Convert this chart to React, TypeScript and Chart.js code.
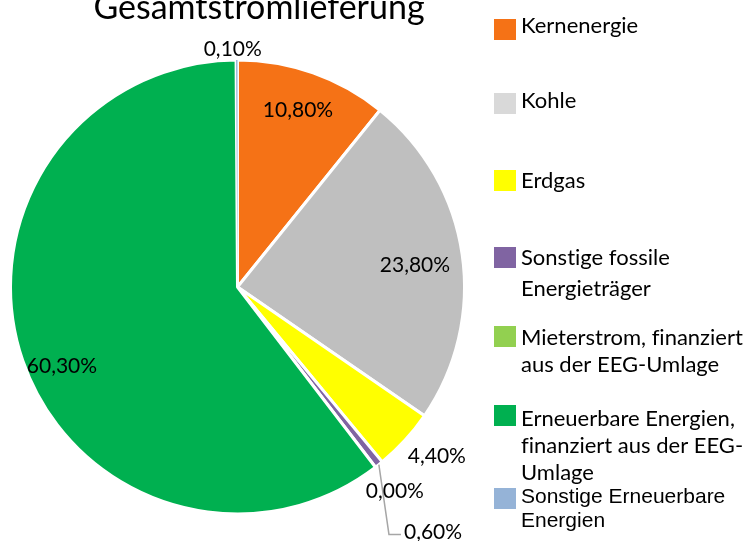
import React, { useEffect, useRef } from "react";
import { Chart, registerables } from "chart.js";

Chart.register(...registerables);

// ---------- data ----------
const TITLE = "Gesamtstromlieferung";
const categories = [
  "Kernenergie",
  "Kohle",
  "Erdgas",
  "Sonstige fossile Energieträger",
  "Mieterstrom, finanziert aus der EEG-Umlage",
  "Erneuerbare Energien, finanziert aus der EEG-Umlage",
  "Sonstige Erneuerbare Energien",
];
const values = [10.8, 23.8, 4.4, 0.6, 0.0, 60.3, 0.1];
const valueLabels = ["10,80%", "23,80%", "4,40%", "0,60%", "0,00%", "60,30%", "0,10%"];
const legendLines = [
  ["Kernenergie"],
  ["Kohle"],
  ["Erdgas"],
  ["Sonstige fossile", "Energieträger"],
  ["Mieterstrom, finanziert", "aus der EEG-Umlage"],
  ["Erneuerbare Energien,", "finanziert aus der EEG-", "Umlage"],
  ["Sonstige Erneuerbare", "Energien"],
];

// ---------- styles ----------
const sliceColors = ["#F57216", "#BFBFBF", "#FFFF00", "#8064A2", "#92D050", "#00B050", "#95B3D7"];
const legendColors = ["#F57216", "#D9D9D9", "#FFFF00", "#8064A2", "#92D050", "#00B050", "#95B3D7"];
const sliceBorders = [3, 3, 3, 3, 3, 3, 0];

const LABEL_FONT = "21px Lato";
const LEGEND_FONT = "22px Lato";
const LEGEND_FONT_ALT = "21px 'Liberation Sans'";

// label placement relative to each slice: radius factor + small nudge
const labelPlacement = [
  { f: 0.827, dx: -2, dy: -1, leader: false },
  { f: 0.79, dx: 0, dy: 3, leader: false },
  { f: 1.149, dx: 7, dy: -8, leader: false },
  { f: 1.376, dx: 1, dy: 0, leader: true },
  { f: 1.133, dx: 1, dy: -1, leader: false },
  { f: 0.85, dx: 7, dy: 16, leader: false },
  { f: 1.05, dx: -4, dy: 0, leader: false },
];

// legend layout
const legendLayout = {
  boxX: 494,
  boxW: 22,
  boxH: 21,
  textX: 521,
  boxTops: [19, 93, 170, 247, 326, 405, 488],
  firstBaselines: [33, 108, 188, 265, 345, 426, 503],
  lineHeights: [27, 27, 27, 31, 27, 27, 24],
};

function noLigatures(ctx: any) {
  try {
    ctx.textRendering = "optimizeSpeed";
  } catch (e) {}
}

const titlePlugin = {
  id: "customTitle",
  afterDraw(chart: any) {
    const ctx = chart.ctx;
    ctx.save();
    noLigatures(ctx);
    ctx.font = "34px Lato";
    ctx.fillStyle = "#000000";
    ctx.textAlign = "center";
    ctx.textBaseline = "alphabetic";
    ctx.fillText(TITLE, 259, 19);
    ctx.restore();
  },
};

const labelPlugin = {
  id: "valueLabels",
  afterDatasetsDraw(chart: any) {
    const ctx = chart.ctx;
    const meta = chart.getDatasetMeta(0);
    ctx.save();
    noLigatures(ctx);
    ctx.font = LABEL_FONT;
    ctx.fillStyle = "#000000";
    ctx.textAlign = "center";
    ctx.textBaseline = "alphabetic";
    const capHalf = 21 * 0.36;
    meta.data.forEach((arc: any, i: number) => {
      const { x, y, startAngle, endAngle, outerRadius } = arc.getProps(
        ["x", "y", "startAngle", "endAngle", "outerRadius"],
        true
      );
      const mid = (startAngle + endAngle) / 2;
      const p = labelPlacement[i];
      const r = outerRadius * p.f;
      const lx = x + Math.cos(mid) * r + p.dx;
      const ly = y + Math.sin(mid) * r + p.dy;
      if (p.leader) {
        const w = ctx.measureText(valueLabels[i]).width;
        const left = lx - w / 2;
        const sx = x + Math.cos(mid) * outerRadius;
        const sy = y + Math.sin(mid) * outerRadius;
        ctx.save();
        ctx.strokeStyle = "#A6A6A6";
        ctx.lineWidth = 1.5;
        ctx.beginPath();
        ctx.moveTo(sx, sy);
        ctx.lineTo(left - 15, ly + 3);
        ctx.lineTo(left - 3, ly + 3);
        ctx.stroke();
        ctx.restore();
      }
      ctx.fillText(valueLabels[i], lx, ly + capHalf);
    });
    ctx.restore();
  },
};

const legendPlugin = {
  id: "customLegend",
  afterDraw(chart: any) {
    const ctx = chart.ctx;
    const L = legendLayout;
    ctx.save();
    noLigatures(ctx);
    ctx.textAlign = "left";
    ctx.textBaseline = "alphabetic";
    legendLines.forEach((lines, i) => {
      ctx.fillStyle = legendColors[i];
      ctx.fillRect(L.boxX, L.boxTops[i], L.boxW, L.boxH);
      ctx.fillStyle = "#000000";
      ctx.font = i === legendLines.length - 1 ? LEGEND_FONT_ALT : LEGEND_FONT;
      lines.forEach((t, j) => {
        ctx.fillText(t, L.textX, L.firstBaselines[i] + j * L.lineHeights[i]);
      });
    });
    ctx.restore();
  },
};

export default function App() {
  const ref = useRef<HTMLCanvasElement>(null);
  useEffect(() => {
    if (!ref.current) return;
    const chart = new Chart(ref.current, {
      type: "pie",
      data: {
        labels: categories,
        datasets: [
          {
            data: values,
            backgroundColor: sliceColors,
            borderColor: "#FFFFFF",
            borderWidth: sliceBorders,
          },
        ],
      },
      options: {
        responsive: false,
        animation: false,
        layout: { padding: { left: 9, top: 58, right: 286, bottom: 25 } },
        plugins: {
          legend: { display: false },
          tooltip: { enabled: false },
          title: { display: false },
        },
      },
      plugins: [labelPlugin, titlePlugin, legendPlugin],
    } as any);
    return () => chart.destroy();
  }, []);
  return (
    <div style={{ position: "absolute", left: 0, top: 0, width: 752, height: 541, background: "#FFFFFF" }}>
      <canvas ref={ref} width={752} height={541} style={{ display: "block" }} />
    </div>
  );
}
